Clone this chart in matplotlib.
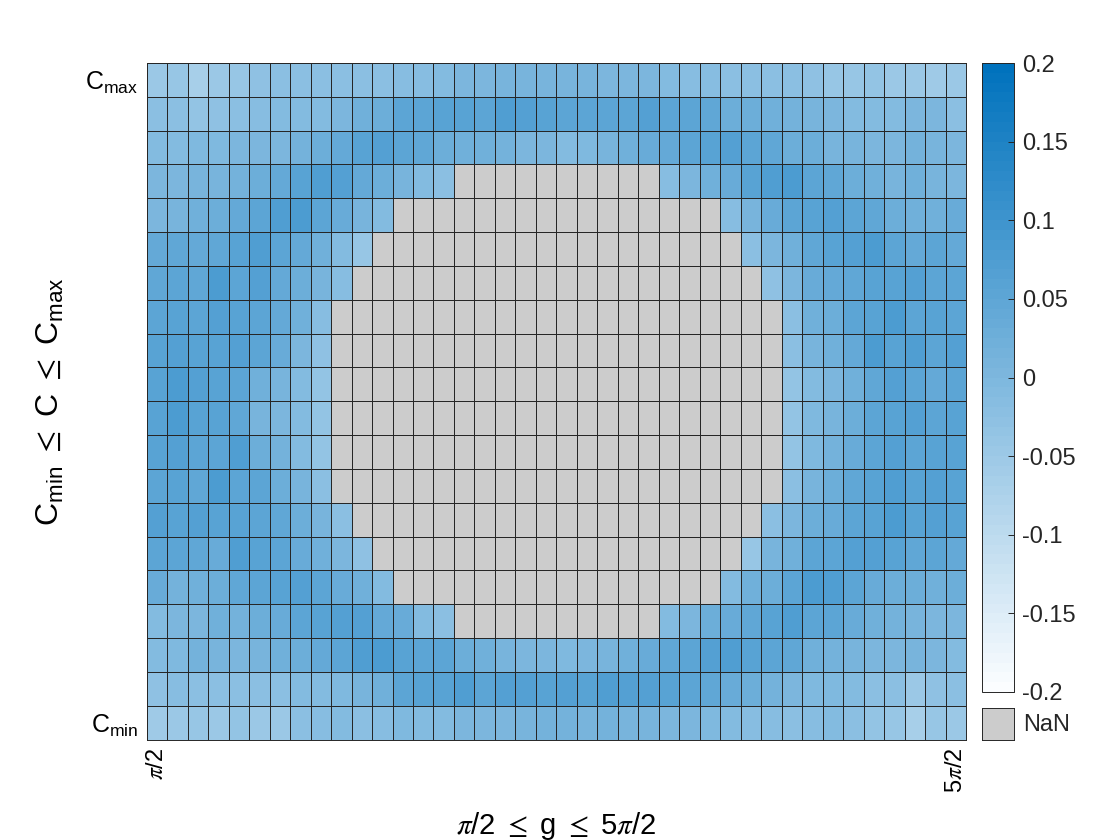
import numpy as np
import matplotlib.pyplot as plt
from matplotlib.colors import LinearSegmentedColormap

plt.rcParams["font.family"] = ["Liberation Sans", "DejaVu Sans"]
plt.rcParams["mathtext.fontset"] = "stix"
plt.rcParams["axes.unicode_minus"] = False

# =============================================================================
# Data (rows from C_max at the top down to C_min, 40 columns in g)

N = np.nan
rows = [
    [-0.05, -0.04, -0.065, -0.05, -0.04, -0.03, -0.02, -0.02, -0.02, -0.02,
     -0.02, -0.02, -0.015, -0.015, -0.01, 0.0, 0.0, 0.01, 0.01, 0.01,
     0.01, 0.01, 0.0, 0.0, 0.0, -0.01, -0.015, -0.015, -0.02, -0.02,
     -0.02, -0.02, -0.03, -0.04, -0.04, -0.035, -0.045, -0.05, -0.055, -0.05],
    [-0.02, -0.02, -0.035, -0.03, -0.02, -0.015, -0.01, -0.01, -0.01, 0.0,
     0.02, 0.03, 0.05, 0.05, 0.06, 0.06, 0.055, 0.07, 0.065, 0.06,
     0.055, 0.055, 0.05, 0.05, 0.065, 0.055, 0.05, 0.045, 0.03, 0.03,
     0.02, 0.015, 0.01, 0.0, -0.01, -0.01, -0.01, 0.0, 0.0, -0.02],
    [-0.01, -0.01, -0.005, -0.005, 0.0, 0.005, 0.0, 0.015, 0.03, 0.04,
     0.06, 0.065, 0.05, 0.045, 0.03, 0.02, 0.02, 0.015, 0.005, 0.005,
     -0.01, -0.005, 0.01, 0.02, 0.035, 0.04, 0.05, 0.06, 0.065, 0.055,
     0.045, 0.03, 0.025, 0.01, 0.01, 0.0, 0.005, 0.015, 0.01, 0.0],
    [0.0, 0.0, 0.01, 0.01, 0.015, 0.025, 0.04, 0.06, 0.07, 0.065,
     0.04, 0.03, 0.01, -0.01, -0.02] + [N] * 10 +
    [-0.015, 0.0, 0.02, 0.035, 0.06, 0.07, 0.075, 0.05, 0.045, 0.03,
     0.02, 0.01, 0.02, 0.01, 0.0],
    [0.0, 0.01, 0.02, 0.03, 0.04, 0.05, 0.07, 0.075, 0.055, 0.035,
     0.01, -0.01] + [N] * 16 +
    [-0.015, 0.01, 0.035, 0.05, 0.06, 0.065, 0.05, 0.045, 0.03, 0.02,
     0.02, 0.035],
    [0.04, 0.045, 0.04, 0.045, 0.06, 0.07, 0.05, 0.04, 0.02, -0.01,
     -0.04] + [N] * 18 +
    [-0.025, 0.0, 0.02, 0.045, 0.06, 0.065, 0.08, 0.055, 0.04, 0.05, 0.04],
    [0.045, 0.05, 0.045, 0.075, 0.05, 0.065, 0.04, 0.03, 0.01, -0.015] + [N] * 20 +
    [-0.03, 0.005, 0.035, 0.04, 0.045, 0.06, 0.06, 0.065, 0.055, 0.055],
    [0.055, 0.06, 0.055, 0.065, 0.06, 0.05, 0.04, 0.02, -0.015] + [N] * 22 +
    [-0.02, 0.02, 0.03, 0.05, 0.06, 0.08, 0.055, 0.06, 0.05],
    [0.06, 0.065, 0.06, 0.06, 0.065, 0.05, 0.035, 0.0, -0.03] + [N] * 22 +
    [-0.025, 0.01, 0.02, 0.04, 0.08, 0.06, 0.07, 0.055, 0.065],
    [0.06, 0.075, 0.065, 0.06, 0.05, 0.02, 0.01, -0.01, -0.035] + [N] * 22 +
    [-0.035, -0.01, 0.0, 0.02, 0.045, 0.065, 0.055, 0.04, 0.055],
    [0.06, 0.075, 0.06, 0.06, 0.045, 0.01, 0.0, -0.01, -0.035] + [N] * 22 +
    [-0.035, -0.005, 0.01, 0.025, 0.055, 0.06, 0.065, 0.055, 0.06],
    [0.06, 0.065, 0.055, 0.05, 0.07, 0.03, 0.015, -0.01, -0.035] + [N] * 22 +
    [-0.035, -0.005, 0.015, 0.035, 0.055, 0.065, 0.055, 0.06, 0.06],
    [0.055, 0.06, 0.045, 0.075, 0.055, 0.05, 0.03, 0.01, -0.025] + [N] * 22 +
    [-0.025, 0.01, 0.025, 0.045, 0.06, 0.07, 0.06, 0.065, 0.06],
    [0.065, 0.06, 0.065, 0.06, 0.06, 0.055, 0.045, 0.025, 0.01, -0.02] + [N] * 20 +
    [-0.02, 0.0, 0.03, 0.035, 0.05, 0.06, 0.075, 0.06, 0.065, 0.06],
    [0.05, 0.055, 0.045, 0.035, 0.07, 0.06, 0.055, 0.035, 0.02, 0.0,
     -0.03] + [N] * 18 +
    [-0.04, 0.01, 0.02, 0.05, 0.055, 0.065, 0.065, 0.06, 0.045, 0.05, 0.04],
    [0.035, 0.015, 0.02, 0.025, 0.045, 0.05, 0.06, 0.065, 0.055, 0.035,
     0.02, -0.01] + [N] * 16 +
    [-0.01, 0.02, 0.03, 0.05, 0.075, 0.07, 0.05, 0.035, 0.03, 0.03,
     0.02, 0.03],
    [-0.01, 0.0, 0.005, 0.02, 0.015, 0.03, 0.035, 0.05, 0.06, 0.065,
     0.065, 0.04, 0.035, -0.01, -0.02] + [N] * 10 +
    [-0.01, 0.005, 0.025, 0.035, 0.045, 0.06, 0.07, 0.055, 0.05, 0.035,
     0.02, 0.015, 0.01, 0.005, 0.005],
    [-0.01, -0.005, 0.015, 0.01, 0.0, 0.01, 0.02, 0.03, 0.04, 0.05,
     0.07, 0.075, 0.06, 0.05, 0.05, 0.025, 0.02, 0.01, 0.005, 0.0,
     -0.005, 0.0, 0.01, 0.02, 0.035, 0.045, 0.055, 0.065, 0.07, 0.06,
     0.05, 0.045, 0.02, 0.015, 0.01, 0.005, 0.005, 0.01, 0.0, -0.01],
    [-0.03, -0.015, -0.02, -0.02, -0.025, -0.02, -0.02, -0.01, -0.01, -0.005,
     0.01, 0.02, 0.05, 0.06, 0.06, 0.07, 0.055, 0.065, 0.065, 0.06,
     0.065, 0.06, 0.07, 0.065, 0.065, 0.06, 0.055, 0.045, 0.035, 0.025,
     0.015, 0.005, -0.005, -0.005, -0.01, -0.02, -0.025, -0.05, -0.03, -0.025],
    [-0.055, -0.05, -0.04, -0.05, -0.035, -0.045, -0.05, -0.02, -0.015, -0.01,
     -0.025, -0.015, -0.005, -0.01, -0.01, 0.0, 0.0, 0.005, 0.01, 0.015,
     0.015, 0.01, 0.015, 0.01, 0.01, 0.005, 0.0, -0.005, -0.01, -0.015,
     -0.015, -0.02, -0.015, -0.01, -0.02, -0.035, -0.04, -0.065, -0.04, -0.045],
]

x_labels = [r"$\pi$/2"] + [""] * 38 + [r"5$\pi$/2"]
y_labels = [r"$\mathregular{C_{max}}$"] + [""] * 18 + [r"$\mathregular{C_{min}}$"]
cbar_ticks = [-0.2, -0.15, -0.1, -0.05, 0, 0.05, 0.1, 0.15, 0.2]
cbar_labels = ["-0.2", "-0.15", "-0.1", "-0.05", "0", "0.05", "0.1", "0.15", "0.2"]

grid = np.ma.masked_invalid(np.array(rows, dtype=float))

# =============================================================================
# Plot

cmap = LinearSegmentedColormap.from_list("mblue", ["#FBFDFF", "#0072BD"], N=64)
cmap = cmap.with_extremes(bad="#CCCCCC")

fig = plt.figure(figsize=(11.2, 8.4), dpi=100)
ax = fig.add_axes([0.131, 0.1196, 0.7315, 0.8054])

mesh = ax.pcolormesh(grid, cmap=cmap, vmin=-0.2, vmax=0.2,
                     edgecolors="#262626", linewidth=0.5)
ax.set_xlim(0, grid.shape[1])
ax.set_ylim(grid.shape[0], 0)

ax.set_xticks(np.arange(grid.shape[1]) + 0.5)
ax.set_xticklabels(x_labels, rotation=90, fontsize=17)
ax.set_yticks(np.arange(grid.shape[0]) + 0.5)
ax.set_yticklabels(y_labels, fontsize=18)
ax.tick_params(length=0, pad=6)
for sp in ax.spines.values():
    sp.set_linewidth(0.7)
    sp.set_color("#262626")

ax.set_xlabel(r"$\pi$/2 $\leq$ g $\leq$ 5$\pi$/2", fontsize=21, labelpad=12)
ax.set_ylabel(r"$\mathregular{C_{min}}$ $\leq$ C $\leq$ $\mathregular{C_{max}}$",
              fontsize=23, labelpad=14)

# Colour bar
cax = fig.add_axes([982 / 1120, 1 - 692 / 840, 32 / 1120, 629 / 840])
cb = fig.colorbar(mesh, cax=cax, ticks=cbar_ticks)
cb.set_ticklabels(cbar_labels)
cb.outline.set_linewidth(0.7)
cb.outline.set_edgecolor("#262626")
cax.tick_params(direction="in", length=4, width=0.7, labelsize=17, pad=6,
                colors="#262626", labelcolor="#262626")

# NaN swatch
nax = fig.add_axes([982 / 1120, 1 - 740 / 840, 32 / 1120, 32 / 840])
nax.set_facecolor("#CCCCCC")
nax.set_xticks([])
nax.set_yticks([])
for sp in nax.spines.values():
    sp.set_linewidth(0.7)
    sp.set_color("#262626")
fig.text(1023 / 1120, 1 - 725 / 840, "NaN", fontsize=17, va="center",
         color="#262626")

fig.savefig("out.png", dpi=100)
